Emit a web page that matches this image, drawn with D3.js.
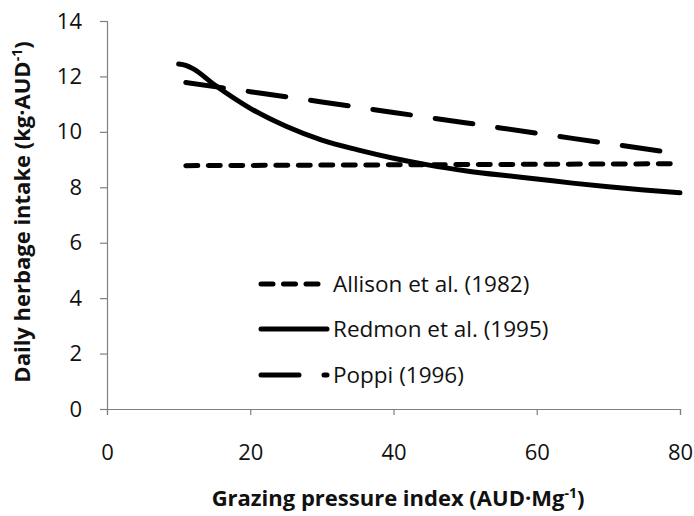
<!DOCTYPE html>
<html>
  <head>
    <style>
    body {
      font-family: "Open Sans", sans-serif;
      margin: 0;
      background: #fff;
    }
    </style>
  </head>
  <body>
    <script src="https://cdnjs.cloudflare.com/ajax/libs/d3/7.8.5/d3.min.js"></script>
    <script>
    var width = 694, height = 516;

    // values
    var allisonX = [11, 20, 30, 40, 50, 60, 70, 80];
    var allisonY = [8.78, 8.79, 8.8, 8.81, 8.82, 8.83, 8.84, 8.85];

    var redmonX = [10, 11, 12, 15, 20, 25, 30, 35, 40, 45, 50, 55, 60, 65, 70, 75, 80];
    var redmonY = [12.45, 12.4, 12.28, 11.7, 10.85, 10.2, 9.7, 9.35, 9.05, 8.8, 8.6, 8.44, 8.3, 8.15, 8.02, 7.9, 7.8];

    var poppiX = [11, 20, 30, 40, 50, 60, 70, 80];
    var poppiY = [11.78, 11.45, 11.08, 10.7, 10.33, 9.95, 9.58, 9.2];

    var xTicks = [0, 20, 40, 60, 80];
    var yTicks = [0, 2, 4, 6, 8, 10, 12, 14];

    var legendNames = ["Allison et al. (1982)", "Redmon et al. (1995)", "Poppi (1996)"];
    var dashes = ["12,10.5", null, "38,25"];

    var x = d3.scaleLinear().domain([0, 80]).range([107, 680]);
    var y = d3.scaleLinear().domain([0, 14]).range([409, 21]);

    var svg = d3.select("body").append("svg")
        .attr("width", width)
        .attr("height", height);

    var axisColor = "#808080";

    var yAxis = svg.append("g")
        .attr("transform", "translate(" + x(0) + ",0)")
        .call(d3.axisLeft(y).tickValues(yTicks).tickSize(7).tickPadding(18).tickFormat(d3.format("d")));

    var xAxis = svg.append("g")
        .attr("transform", "translate(0," + y(0) + ")")
        .call(d3.axisBottom(x).tickValues(xTicks).tickSize(6).tickPadding(29).tickFormat(d3.format("d")));

    [xAxis, yAxis].forEach(function(g){
      g.select(".domain").attr("stroke", axisColor).attr("stroke-width", 1.2);
      g.selectAll(".tick line").attr("stroke", axisColor).attr("stroke-width", 1.2);
      g.selectAll(".tick text")
          .attr("fill", "#111")
          .style("font-family", "'Open Sans', sans-serif")
          .style("font-size", "22px");
    });

    var line = d3.line()
        .x(function(d){ return x(d[0]); })
        .y(function(d){ return y(d[1]); })
        .curve(d3.curveMonotoneX);

    var series = [
      d3.zip(allisonX, allisonY),
      d3.zip(redmonX, redmonY),
      d3.zip(poppiX, poppiY)
    ];

    series.forEach(function(s, i){
      svg.append("path")
          .datum(s)
          .attr("d", line)
          .attr("fill", "none")
          .attr("stroke", "#000")
          .attr("stroke-width", 5)
          .attr("stroke-linecap", "round")
          .attr("stroke-dasharray", dashes[i]);
    });

    // legend
    var legY = [284, 329, 375];
    legendNames.forEach(function(name, i){
      svg.append("line")
          .attr("x1", 261).attr("x2", 327)
          .attr("y1", legY[i]).attr("y2", legY[i])
          .attr("stroke", "#000")
          .attr("stroke-width", 5)
          .attr("stroke-linecap", "round")
          .attr("stroke-dasharray", dashes[i]);
      svg.append("text")
          .attr("x", 333)
          .attr("y", legY[i])
          .attr("dy", "0.36em")
          .style("font-size", "22.5px")
          .attr("fill", "#111")
          .text(name);
    });

    // axis titles
    var xt = svg.append("text")
        .attr("x", 398)
        .attr("y", 506)
        .attr("text-anchor", "middle")
        .style("font-size", "22px")
        .style("font-weight", "bold")
        .attr("fill", "#111");
    xt.append("tspan").text("Grazing pressure index (AUD\u00b7Mg");
    xt.append("tspan").attr("dy", -8).style("font-size", "14px").text("-1");
    xt.append("tspan").attr("dy", 8).text(")");

    var yt = svg.append("text")
        .attr("transform", "translate(30,212) rotate(-90)")
        .attr("text-anchor", "middle")
        .style("font-size", "22px")
        .style("font-weight", "bold")
        .attr("fill", "#111");
    yt.append("tspan").text("Daily herbage intake (kg\u00b7AUD");
    yt.append("tspan").attr("dy", -8).style("font-size", "14px").text("-1");
    yt.append("tspan").attr("dy", 8).text(")");
    </script>
  </body>
</html>
